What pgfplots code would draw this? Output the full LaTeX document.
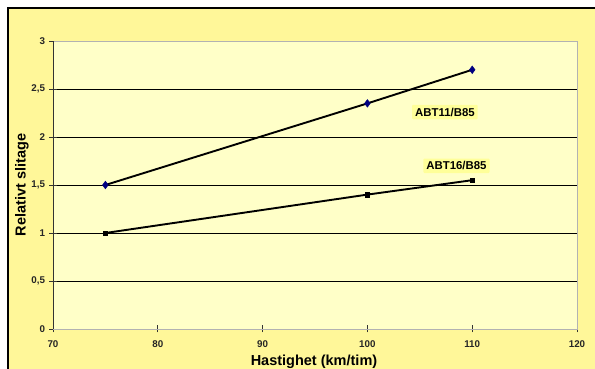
\documentclass[border=0pt]{standalone}
\usepackage{fontspec}
\setmainfont{Liberation Sans}
\usepackage{pgfplots}
\pgfplotsset{compat=1.18}
\definecolor{outerbg}{RGB}{255,247,153}
\definecolor{innerbg}{RGB}{255,255,200}
\definecolor{lblbg}{RGB}{255,255,153}
\definecolor{navyblue}{RGB}{0,0,128}
\begin{document}
\begin{tikzpicture}[x=1pt,y=1pt]
\fill[white] (0,0) rectangle (595,369);
\fill[outerbg] (8,0) rectangle (595,361);
\draw[black, line width=1.2pt] (8,0) -- (8,361) -- (595,361);
\begin{axis}[
  at={(53pt,40pt)}, anchor=south west,
  width=524pt, height=288pt, scale only axis,
  xmin=70, xmax=120, ymin=0, ymax=3,
  xtick={70,80,...,120}, ytick={0,0.5,...,3},
  axis background/.style={fill=innerbg},
  x axis line style={black!80, line width=0.8pt},
  y axis line style={gray!60, line width=0.8pt},
  ymajorgrids, grid style={black, line width=0.8pt},
  tick pos=left, tick align=center, major tick length=7pt,
  tick style={black!80, line width=0.7pt},
  /pgf/number format/use comma,
  /pgf/number format/assume math mode=true,
  ticklabel style={font=\bfseries\fontsize{9.8}{11}\selectfont, text=black!85},
  yticklabel style={xshift=-1pt},
  xticklabel style={yshift=-5pt},
  clip=false,
]
\draw[black!80, line width=0.9pt] (rel axis cs:0,0) -- (rel axis cs:0,1);
\addplot[black, line width=1.9pt, mark=diamond*, mark size=3.8pt,
  mark options={fill=navyblue, draw=navyblue, line width=0.5pt}]
  coordinates {(75,1.5) (100,2.35) (110,2.7)};
\addplot[black, line width=1.9pt, mark=square*, mark size=2.2pt,
  mark options={fill=black, draw=black, line width=0.4pt}]
  coordinates {(75,1.0) (100,1.4) (110,1.55)};
\node[fill=lblbg, font=\bfseries\fontsize{11.4}{13}\selectfont, inner sep=3pt, rounded corners=1pt]
  at (axis cs:107.4,2.26) {ABT11/B85};
\node[fill=lblbg, font=\bfseries\fontsize{11.4}{13}\selectfont, inner sep=3pt, rounded corners=1pt]
  at (axis cs:108.5,1.70) {ABT16/B85};
\end{axis}
\node[rotate=90, font=\bfseries\fontsize{14.5}{16}\selectfont] at (22,184) {Relativt slitage};
\node[anchor=base, font=\bfseries\fontsize{14.5}{16}\selectfont] at (314,3.3) {Hastighet (km/tim)};
\pgfresetboundingbox
\useasboundingbox (0,0) rectangle (595,369);
\end{tikzpicture}
\end{document}
